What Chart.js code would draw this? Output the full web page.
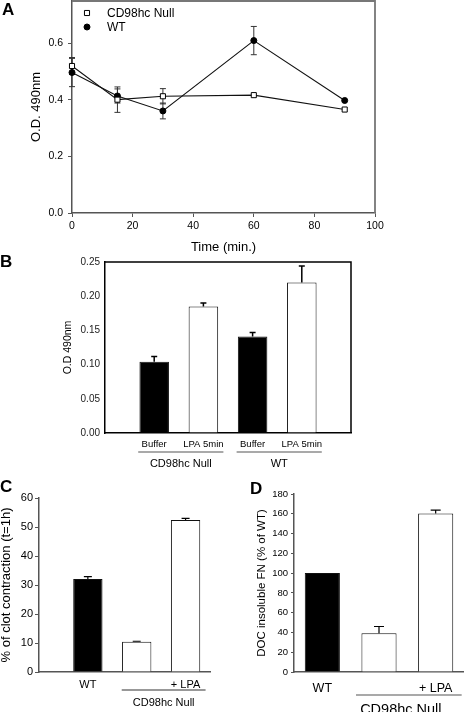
<!DOCTYPE html>
<html>
<head>
<meta charset="utf-8">
<script src="https://cdn.jsdelivr.net/npm/chart.js@4.4.1/dist/chart.umd.min.js"></script>
<style>
  body { margin: 0; background: #fff; }
  #page { position: relative; width: 464px; height: 712px; overflow: hidden; }
  canvas { position: absolute; left: 0; top: 0; }
  .tag { position: absolute; font: bold 17px "Liberation Sans", Arial, sans-serif; line-height: 1; }
</style>
</head>
<body>
<div id="page">
  <canvas id="chartA" width="464" height="712"></canvas>
  <canvas id="chartB" width="464" height="712"></canvas>
  <canvas id="chartC" width="464" height="712"></canvas>
  <canvas id="chartD" width="464" height="712"></canvas>
  <div class="tag" style="left:2px;top:1px">A</div>
  <div class="tag" style="left:0px;top:253px">B</div>
  <div class="tag" style="left:0px;top:478px">C</div>
  <div class="tag" style="left:250px;top:480px">D</div>
</div>
<script>
// ---------------- DATA -----------------
// A: O.D. over time
const timeMin = [0, 15, 30, 60, 90];
const nullOD = [0.52, 0.401, 0.413, 0.417, 0.366];
const nullErr = [0.03, 0.045, 0.027, 0, 0];
const wtOD = [0.497, 0.414, 0.361, 0.61, 0.398];
const wtErr = [0.05, 0.025, 0.028, 0.05, 0];
const aXTicks = [0, 20, 40, 60, 80, 100];
const aYTicks = [0, 0.2, 0.4, 0.6];

// B: buffer vs LPA 5min
const bLabels = ['Buffer', 'LPA 5min', 'Buffer', 'LPA 5min'];
const bValues = [0.104, 0.185, 0.141, 0.220];
const bErr = [0.008, 0.005, 0.006, 0.024];
const bGroups = ['CD98hc Null', 'WT'];
const bYTicks = [0, 0.05, 0.10, 0.15, 0.20, 0.25];

// C: clot contraction
const cLabels = ['WT', '', '+ LPA'];
const cValues = [32.1, 10.4, 52.4];
const cErr = [0.8, 0.2, 0.6];
const cYTicks = [0, 10, 20, 30, 40, 50, 60];

// D: DOC insoluble FN
const dLabels = ['WT', '', '+ LPA'];
const dValues = [100, 39.3, 160.3];
const dErr = [0, 6.7, 3.4];
const dYTicks = [0, 20, 40, 60, 80, 100, 120, 140, 160, 180];

const nullGroup = 'CD98hc Null';
const barFill = ['#000', '#fff', '#000', '#fff'];

// ---------------- DEFAULTS -----------------
Chart.defaults.font.family = '"Liberation Sans", Arial, sans-serif';
Chart.defaults.color = '#000';
Chart.defaults.animation = false;
Chart.defaults.responsive = false;
Chart.defaults.layout.autoPadding = false;
Chart.defaults.plugins.legend.display = false;
Chart.defaults.plugins.tooltip.enabled = false;

// ---------------- PLUGINS -----------------
function errorBars(errs, opt) {
  return {
    id: 'errorBars',
    [opt.behind ? 'beforeDatasetsDraw' : 'afterDatasetsDraw'](chart) {
      const ctx = chart.ctx, y = chart.scales.y;
      ctx.save();
      ctx.strokeStyle = opt.color || '#000';
      ctx.lineWidth = opt.width || 1;
      errs.forEach((list, di) => {
        const meta = chart.getDatasetMeta(di);
        const raw = chart.data.datasets[di].data;
        meta.data.forEach((el, i) => {
          const e = list[i];
          if (!e) return;
          const v = typeof raw[i] === 'object' ? raw[i].y : raw[i];
          const yTop = y.getPixelForValue(v + e);
          const yBot = y.getPixelForValue(opt.both ? v - e : v);
          ctx.beginPath();
          ctx.moveTo(el.x, yTop); ctx.lineTo(el.x, yBot);
          ctx.moveTo(el.x - opt.cap, yTop); ctx.lineTo(el.x + opt.cap, yTop);
          if (opt.both) { ctx.moveTo(el.x - opt.cap, yBot); ctx.lineTo(el.x + opt.cap, yBot); }
          ctx.stroke();
        });
      });
      ctx.restore();
    }
  };
}

// top and right edges of the plot box
function frameBox(color, width) {
  return {
    id: 'frameBox',
    afterDraw(chart) {
      const { ctx, chartArea: a } = chart;
      ctx.save();
      ctx.strokeStyle = color;
      ctx.lineWidth = width;
      ctx.beginPath();
      ctx.moveTo(a.left, a.top); ctx.lineTo(a.right, a.top); ctx.lineTo(a.right, a.bottom);
      ctx.stroke();
      ctx.restore();
    }
  };
}

// underline + label below groups of bars
function groupLines(groups, opt) {
  return {
    id: 'groupLines',
    afterDraw(chart) {
      const { ctx, chartArea: a } = chart;
      const x = chart.scales.x;
      ctx.save();
      ctx.strokeStyle = opt.color;
      ctx.lineWidth = 1.2;
      ctx.fillStyle = '#000';
      ctx.font = opt.font + 'px "Liberation Sans", Arial, sans-serif';
      ctx.textAlign = 'center';
      ctx.textBaseline = 'middle';
      groups.forEach(g => {
        const x0 = x.getPixelForValue(g.first) - opt.padL;
        const x1 = x.getPixelForValue(g.last) + opt.padR;
        ctx.beginPath();
        ctx.moveTo(x0, a.bottom + opt.lineY);
        ctx.lineTo(x1, a.bottom + opt.lineY);
        ctx.stroke();
        ctx.fillText(g.label, (x0 + x1) / 2 + (opt.shift || 0), a.bottom + opt.labelY);
      });
      ctx.restore();
    }
  };
}

// legend inside panel A
const legendA = {
  id: 'legendA',
  afterDraw(chart) {
    const { ctx, chartArea: a } = chart;
    ctx.save();
    ctx.font = '12px "Liberation Sans", Arial, sans-serif';
    ctx.textBaseline = 'middle';
    chart.data.datasets.forEach((ds, i) => {
      const cx = a.left + 15, cy = a.top + 12 + i * 14;
      ctx.fillStyle = ds.pointBackgroundColor;
      ctx.strokeStyle = ds.pointBorderColor;
      ctx.lineWidth = ds.pointBorderWidth;
      ctx.beginPath();
      if (ds.pointStyle === 'rect') {
        const s = ds.pointRadius * Math.SQRT1_2;
        ctx.rect(cx - s, cy - s, 2 * s, 2 * s);
      } else {
        ctx.arc(cx, cy, ds.pointRadius, 0, Math.PI * 2);
      }
      ctx.fill(); ctx.stroke();
      ctx.fillStyle = '#000';
      ctx.fillText(ds.label, a.left + 35, cy + 1);
    });
    ctx.restore();
  }
};

function fixedTicks(list) {
  return s => { s.ticks = list.map(v => ({ value: v })); };
}

// ---------------- PANEL A -----------------
new Chart(document.getElementById('chartA'), {
  type: 'line',
  data: {
    datasets: [
      {
        label: 'CD98hc Null',
        data: timeMin.map((t, i) => ({ x: t, y: nullOD[i] })),
        borderColor: '#111', borderWidth: 1.1, clip: false,
        pointStyle: 'rect', pointRadius: 3.6,
        pointBackgroundColor: '#fff', pointBorderColor: '#000', pointBorderWidth: 1
      },
      {
        label: 'WT',
        data: timeMin.map((t, i) => ({ x: t, y: wtOD[i] })),
        borderColor: '#111', borderWidth: 1.1, clip: false,
        pointStyle: 'circle', pointRadius: 3,
        pointBackgroundColor: '#000', pointBorderColor: '#000', pointBorderWidth: 1
      }
    ]
  },
  options: {
    layout: { padding: { left: 0, top: 1, right: 89, bottom: 456 } },
    scales: {
      x: {
        type: 'linear', min: 0, max: 100,
        afterFit: s => { s.height = 43; },
        afterBuildTicks: fixedTicks(aXTicks),
        ticks: { autoSkip: false, maxRotation: 0, padding: 3, font: { size: 10.5 } },
        title: { display: true, text: 'Time (min.)', font: { size: 13 }, padding: { top: 0, bottom: 1 } },
        grid: { drawOnChartArea: false, drawTicks: true, tickLength: 4, color: '#555' },
        border: { color: '#555', width: 1.5 }
      },
      y: {
        min: 0, max: 0.75,
        afterFit: s => { s.width = 72; s.paddingTop = 0; },
        afterBuildTicks: fixedTicks(aYTicks),
        ticks: { autoSkip: false, padding: 5, font: { size: 10.5 }, callback: v => v.toFixed(1) },
        title: { display: true, text: 'O.D. 490nm', font: { size: 13 }, padding: { top: 29, bottom: 0 } },
        grid: { drawOnChartArea: false, drawTicks: true, tickLength: 4, color: '#555' },
        border: { color: '#555', width: 1.5 }
      }
    }
  },
  plugins: [errorBars([nullErr, wtErr], { both: true, cap: 3, color: '#333', width: 1, behind: true }),
            frameBox('#777', 1.8), legendA]
});

// ---------------- PANEL B -----------------
new Chart(document.getElementById('chartB'), {
  type: 'bar',
  data: {
    datasets: [{
      data: bValues.map((v, i) => ({ x: i + 1, y: v })),
      backgroundColor: barFill, borderColor: '#111', borderWidth: 1,
      barPercentage: 0.6, categoryPercentage: 1
    }]
  },
  options: {
    layout: { padding: { left: 0, top: 262, right: 113, bottom: 249 } },
    scales: {
      x: {
        type: 'linear', offset: false, min: 0, max: 5,
        afterFit: s => { s.height = 30; },
        afterBuildTicks: fixedTicks(bLabels.map((l, i) => i + 1)),
        ticks: { autoSkip: false, maxRotation: 0, padding: 6, font: { size: 9.5 }, callback: v => bLabels[v - 1] || '' },
        grid: { drawOnChartArea: false, drawTicks: false },
        border: { color: '#000', width: 1.5 }
      },
      y: {
        min: 0, max: 0.25,
        afterFit: s => { s.width = 105; },
        afterBuildTicks: fixedTicks(bYTicks),
        ticks: { autoSkip: false, padding: 5, font: { size: 10 }, color: '#222', callback: v => v.toFixed(2) },
        title: { display: true, text: 'O.D 490nm', font: { size: 10.5 }, padding: { top: 61.7, bottom: 0 } },
        grid: { drawOnChartArea: false, drawTicks: false },
        border: { color: '#000', width: 1.5 }
      }
    }
  },
  plugins: [errorBars([bErr], { cap: 3, color: '#000', width: 1.5 }),
            frameBox('#000', 1.5),
            groupLines([{ label: bGroups[0], first: 1, last: 2 }, { label: bGroups[1], first: 3, last: 4 }],
                       { lineY: 19, labelY: 31, padL: 16, padR: 20, font: 11, color: '#555' })]
});

// ---------------- PANEL C -----------------
new Chart(document.getElementById('chartC'), {
  type: 'bar',
  data: {
    datasets: [{
      data: cValues.map((v, i) => ({ x: i + 1, y: v })),
      backgroundColor: ['#000', '#fff', '#fff'], borderColor: '#111', borderWidth: 1,
      barPercentage: 0.6, categoryPercentage: 1
    }]
  },
  options: {
    layout: { padding: { left: 0, top: 498, right: 254, bottom: 20 } },
    scales: {
      x: {
        type: 'linear', offset: false, min: 0, max: 3.5,
        afterFit: s => { s.height = 20; },
        afterBuildTicks: fixedTicks([1, 2, 3]),
        ticks: { autoSkip: false, maxRotation: 0, padding: 6, font: { size: 11 }, callback: v => cLabels[v - 1] || '' },
        grid: { drawOnChartArea: false, drawTicks: false },
        border: { color: '#555', width: 1.5 }
      },
      y: {
        min: 0, max: 60,
        afterFit: s => { s.width = 39; },
        afterBuildTicks: fixedTicks(cYTicks),
        ticks: { autoSkip: false, padding: 2, font: { size: 11 } },
        title: { display: true, text: '% of clot contraction (t=1h)', font: { size: 13 }, padding: { top: -1.3, bottom: 0 } },
        grid: { drawOnChartArea: false, drawTicks: true, tickLength: 4, color: '#555' },
        border: { color: '#555', width: 1.5 }
      }
    }
  },
  plugins: [errorBars([cErr], { cap: 4, color: '#000', width: 1.2 }),
            groupLines([{ label: nullGroup, first: 2, last: 3 }],
                       { lineY: 18, labelY: 31, padL: 15, padR: 20, font: 11, color: '#333' })]
});

// ---------------- PANEL D -----------------
new Chart(document.getElementById('chartD'), {
  type: 'bar',
  data: {
    labels: dLabels,
    datasets: [{
      data: dValues,
      backgroundColor: ['#000', '#fff', '#fff'], borderColor: '#111', borderWidth: 1,
      barPercentage: 0.62, categoryPercentage: 1
    }]
  },
  options: {
    layout: { padding: { left: 0, top: 494, right: 0, bottom: 20 } },
    scales: {
      x: {
        afterFit: s => { s.height = 20; },
        ticks: { autoSkip: false, maxRotation: 0, padding: 9, font: { size: 12.5 } },
        grid: { drawOnChartArea: false, drawTicks: false },
        border: { color: '#555', width: 1.5 }
      },
      y: {
        min: 0, max: 180,
        afterFit: s => { s.width = 294; },
        afterBuildTicks: fixedTicks(dYTicks),
        ticks: { autoSkip: false, padding: 3, font: { size: 9.5 } },
        title: { display: true, text: 'DOC insoluble FN (% of WT)', font: { size: 11.5 }, padding: { top: 254.8, bottom: 0 } },
        grid: { drawOnChartArea: false, drawTicks: true, tickLength: 3, color: '#555' },
        border: { color: '#555', width: 1.5 }
      }
    }
  },
  plugins: [errorBars([dErr], { cap: 5, color: '#000', width: 1.2 }),
            groupLines([{ label: nullGroup, first: 1, last: 2 }],
                       { lineY: 23, labelY: 38, padL: 23, padR: 26, font: 14.5, color: '#555', shift: -8 })]
});
</script>
</body>
</html>
